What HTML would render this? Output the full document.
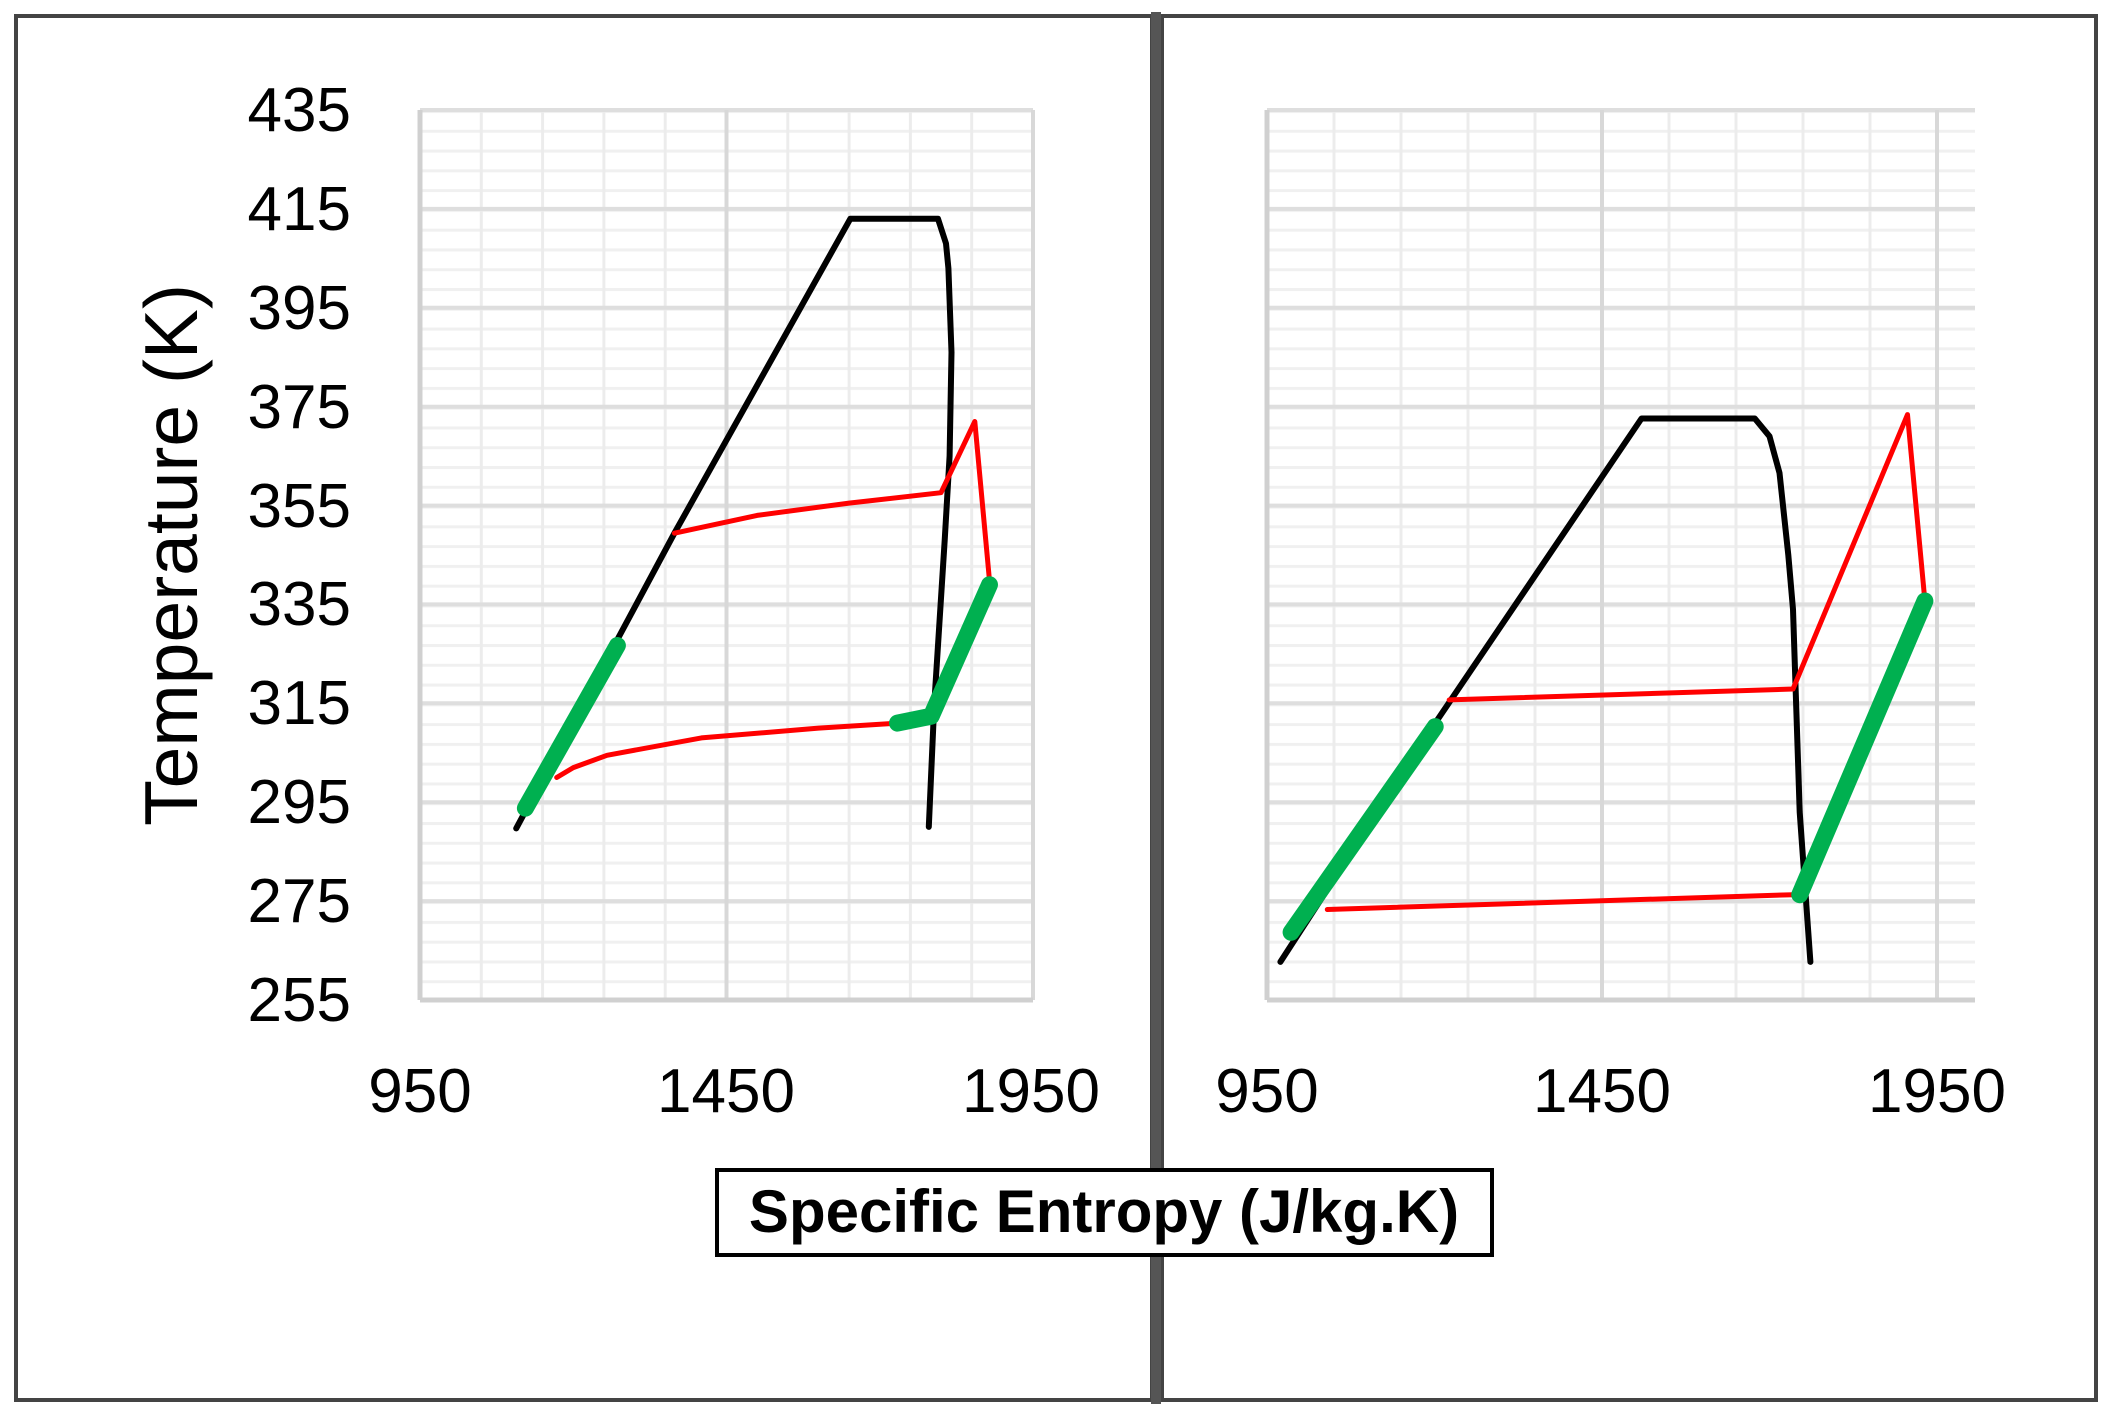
<!DOCTYPE html>
<html><head><meta charset="utf-8"><style>
html,body{margin:0;padding:0;background:#fff;}
svg{display:block;}
text{font-family:"Liberation Sans Narrow","Liberation Sans",sans-serif;}
</style></head><body>
<svg width="2113" height="1414" viewBox="0 0 2113 1414" xmlns="http://www.w3.org/2000/svg">
<defs>
<pattern id="hmin" patternUnits="userSpaceOnUse" x="0" y="110" width="10" height="19.778">
<rect x="0" y="0" width="10" height="3" fill="#f0f0f0"/>
</pattern>
<pattern id="vminL" patternUnits="userSpaceOnUse" x="418.5" y="0" width="61.3" height="10">
<rect x="0" y="0" width="3" height="10" fill="#ececec"/>
</pattern>
<pattern id="vminR" patternUnits="userSpaceOnUse" x="1265.5" y="0" width="67" height="10">
<rect x="0" y="0" width="3" height="10" fill="#ececec"/>
</pattern>
</defs>
<rect x="0" y="0" width="2113" height="1414" fill="#fff"/>
<rect x="16" y="16" width="1136" height="1384" fill="none" stroke="#444" stroke-width="4"/>
<rect x="1162" y="16" width="934" height="1384" fill="none" stroke="#444" stroke-width="4"/>
<rect x="1151" y="12" width="10" height="1392" fill="#555"/>

<rect x="420" y="108" width="613" height="892" fill="url(#hmin)"/>
<rect x="420" y="110" width="613" height="890" fill="url(#vminL)"/>
<g stroke="#dedede" stroke-width="4">
<line x1="420" x2="1033" y1="110" y2="110"/><line x1="420" x2="1033" y1="208.9" y2="208.9"/>
<line x1="420" x2="1033" y1="307.8" y2="307.8"/><line x1="420" x2="1033" y1="406.7" y2="406.7"/>
<line x1="420" x2="1033" y1="505.6" y2="505.6"/><line x1="420" x2="1033" y1="604.4" y2="604.4"/>
<line x1="420" x2="1033" y1="703.3" y2="703.3"/><line x1="420" x2="1033" y1="802.2" y2="802.2"/>
<line x1="420" x2="1033" y1="901.1" y2="901.1"/>
<line x1="726.5" x2="726.5" y1="110" y2="1000" stroke="#d8d8d8"/>
<line x1="1033" x2="1033" y1="110" y2="1000" stroke="#d8d8d8"/>
</g>
<line x1="420" x2="420" y1="110" y2="1000" stroke="#d0d0d0" stroke-width="5"/>
<line x1="420" x2="1033" y1="1000" y2="1000" stroke="#d0d0d0" stroke-width="5"/>

<rect x="1267" y="108" width="708" height="892" fill="url(#hmin)"/>
<rect x="1267" y="110" width="708" height="890" fill="url(#vminR)"/>
<g stroke="#dedede" stroke-width="4">
<line x1="1267" x2="1975" y1="110" y2="110"/><line x1="1267" x2="1975" y1="208.9" y2="208.9"/>
<line x1="1267" x2="1975" y1="307.8" y2="307.8"/><line x1="1267" x2="1975" y1="406.7" y2="406.7"/>
<line x1="1267" x2="1975" y1="505.6" y2="505.6"/><line x1="1267" x2="1975" y1="604.4" y2="604.4"/>
<line x1="1267" x2="1975" y1="703.3" y2="703.3"/><line x1="1267" x2="1975" y1="802.2" y2="802.2"/>
<line x1="1267" x2="1975" y1="901.1" y2="901.1"/>
<line x1="1602" x2="1602" y1="110" y2="1000" stroke="#d8d8d8"/>
<line x1="1937" x2="1937" y1="110" y2="1000" stroke="#d8d8d8"/>
</g>
<line x1="1267" x2="1267" y1="110" y2="1000" stroke="#d0d0d0" stroke-width="5"/>
<line x1="1267" x2="1975" y1="1000" y2="1000" stroke="#d0d0d0" stroke-width="5"/>

<script>
(function(){
 var ns="http://www.w3.org/2000/svg";
 function pts(arr,s950,s1950){
  return arr.map(function(p){
   var x=s950+(p[0]-950)*(s1950-s950)/1000;
   var y=1000-(p[1]-255)*890/180;
   return x.toFixed(1)+','+y.toFixed(1);
  }).join(' ');
 }
 var svg=document.currentScript.parentNode;
 function pl(arr,a,b,col,w){
  var p=document.createElementNS(ns,"polyline");
  p.setAttribute("points",pts(arr,a,b));
  p.setAttribute("fill","none");p.setAttribute("stroke",col);p.setAttribute("stroke-width",w);
  p.setAttribute("stroke-linejoin","round");p.setAttribute("stroke-linecap","round");
  svg.insertBefore(p,document.currentScript);
 }
 var L=[420,1033], R=[1267,1937];
 pl([[1107,289.7],[1365,349.4],[1652,413],[1795,413],[1808,408],[1812,403],[1817,386],[1814,365],[1806,348],[1789,315],[1780,290]],L[0],L[1],"#000",6);
 pl([[1173,300],[1200,302],[1255,304.5],[1409,308],[1600,310],[1729,311]],L[0],L[1],"#ff0000",5);
 pl([[1365,349.4],[1500,353],[1650,355.5],[1800,357.6],[1855,372],[1879,339.8]],L[0],L[1],"#ff0000",5);
 pl([[1122,293.8],[1272,326.7]],L[0],L[1],"#00b050",17);
 pl([[1729,311],[1784,312.4],[1879,339]],L[0],L[1],"#00b050",17);
 pl([[970,262.7],[1201,311],[1509,372.6],[1678,372.6],[1700,369],[1715,361.6],[1728,345],[1735,334],[1745,293],[1761,262.7]],R[0],R[1],"#000",6);
 pl([[1040,273.3],[1735,276.3]],R[0],R[1],"#ff0000",5);
 pl([[1222,315.7],[1735,317.9],[1906,373.4],[1932,335.7]],R[0],R[1],"#ff0000",5);
 pl([[986,268.7],[1201,310.3]],R[0],R[1],"#00b050",17);
 pl([[1745,276.3],[1932,335.7]],R[0],R[1],"#00b050",17);
})();
</script>

<g font-size="62" fill="#000" text-anchor="end">
<text x="351" y="131">435</text>
<text x="351" y="230">415</text>
<text x="351" y="329">395</text>
<text x="351" y="428">375</text>
<text x="351" y="527">355</text>
<text x="351" y="625">335</text>
<text x="351" y="724">315</text>
<text x="351" y="823">295</text>
<text x="351" y="922">275</text>
<text x="351" y="1021">255</text>
</g>
<g font-size="62" fill="#000" text-anchor="middle">
<text x="420" y="1112">950</text>
<text x="726" y="1112">1450</text>
<text x="1031" y="1112">1950</text>
<text x="1267" y="1112">950</text>
<text x="1602" y="1112">1450</text>
<text x="1937" y="1112">1950</text>
</g>
<text transform="translate(197,555) rotate(-90)" font-size="75" text-anchor="middle" font-family="Liberation Sans, sans-serif" fill="#000">Temperature (K)</text>
<rect x="717" y="1170" width="775" height="85" fill="#fff" stroke="#000" stroke-width="4"/>
<text x="1104" y="1232" font-size="60" font-weight="bold" text-anchor="middle" fill="#000">Specific Entropy (J/kg.K)</text>
</svg>
</body></html>
